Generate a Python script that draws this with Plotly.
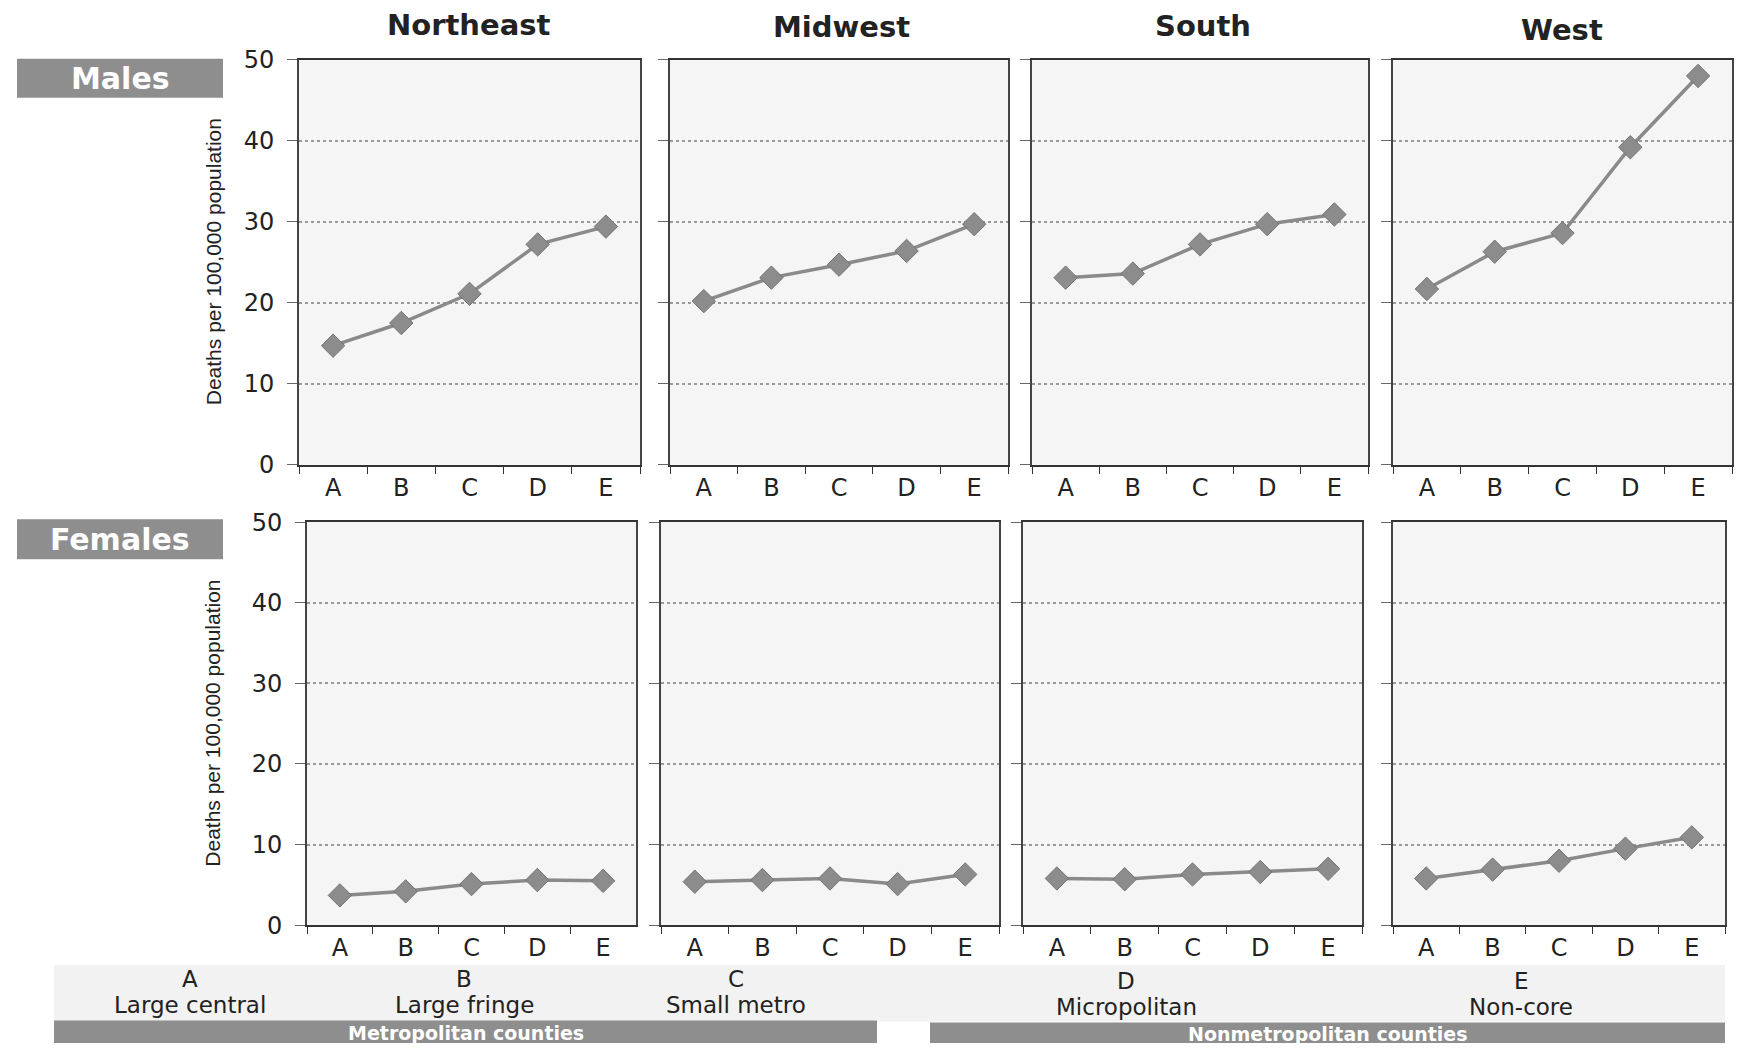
import plotly.graph_objects as go

W, H = 1747, 1057

categories = ["A", "B", "C", "D", "E"]
regions = ["Northeast", "Midwest", "South", "West"]

northeast_males = [14.7, 17.5, 21.1, 27.2, 29.4]
midwest_males = [20.2, 23.1, 24.7, 26.4, 29.7]
south_males = [23.1, 23.6, 27.2, 29.7, 30.9]
west_males = [21.7, 26.3, 28.6, 39.2, 48.0]

northeast_females = [3.7, 4.2, 5.1, 5.6, 5.5]
midwest_females = [5.4, 5.6, 5.8, 5.1, 6.3]
south_females = [5.8, 5.7, 6.3, 6.6, 7.0]
west_females = [5.8, 6.9, 8.0, 9.5, 10.9]

y_ticks = [0, 10, 20, 30, 40, 50]
category_letters = ["A", "B", "C", "D", "E"]
category_names = ["Large central", "Large fringe", "Small metro", "Micropolitan", "Non-core"]
group_names = ["Metropolitan counties", "Nonmetropolitan counties"]
row_names = ["Males", "Females"]
y_title = "Deaths per 100,000 population"

males = [northeast_males, midwest_males, south_males, west_males]
females = [northeast_females, midwest_females, south_females, west_females]

WIDE = "DejaVu Sans, Verdana, sans-serif"
ARIAL = "Liberation Sans, Arial, sans-serif"


def px(x):
    return x / W


def py(y):
    return 1 - y / H


male_x = [(299, 640), (670, 1008), (1032, 1368), (1393, 1732)]
female_x = [(307, 636), (661, 999), (1023, 1362), (1393, 1725)]
male_y = (47, 463)
female_y = (522, 936)

fig = go.Figure()
layout = dict(
    width=W, height=H,
    margin=dict(l=0, r=0, t=0, b=0),
    paper_bgcolor="white",
    plot_bgcolor="#f5f5f5",
    showlegend=False,
    font=dict(family=ARIAL, color="#222"),
)

idx = 0
for row, (data, xs, ys) in enumerate([(males, male_x, male_y), (females, female_x, female_y)]):
    for col in range(4):
        idx += 1
        xa = "x" if idx == 1 else f"x{idx}"
        ya = "y" if idx == 1 else f"y{idx}"
        fig.add_trace(go.Scatter(
            x=categories, y=data[col], xaxis=xa, yaxis=ya, mode="lines+markers",
            line=dict(color="#8a8a8a", width=3.5),
            marker=dict(symbol="diamond", size=18, color="#8c8c8c",
                        line=dict(color="#747474", width=1)),
        ))
        xkey = "xaxis" if idx == 1 else f"xaxis{idx}"
        ykey = "yaxis" if idx == 1 else f"yaxis{idx}"
        layout[xkey] = dict(
            domain=[px(xs[col][0]), px(xs[col][1])], anchor=ya,
            type="category", range=[-0.5, 4.5],
            showline=True, linecolor="#333", linewidth=2, mirror=True,
            ticks="outside", tickson="boundaries", ticklen=7, tickcolor="#333",
            showgrid=False, tickfont=dict(size=24, color="#222", family=WIDE),
            fixedrange=True,
        )
        layout[ykey] = dict(
            domain=[py(ys[1]), py(ys[0])], anchor=xa,
            range=[0, 50], tickvals=y_ticks,
            showticklabels=(col == 0),
            showline=True, linecolor="#444", linewidth=2, mirror=True,
            ticks="outside", ticklen=10, tickcolor="#666",
            ticklabelstandoff=8,
            showgrid=True, gridcolor="#9a9a9a", gridwidth=1.5, griddash="dot",
            zeroline=False, tickfont=dict(size=24, color="#222", family=WIDE),
            fixedrange=True,
        )

annotations = []
shapes = []

# region titles
title_x = [469, 841, 1203, 1562]
title_y = [11, 13, 12, 16]
for name, tx, ty in zip(regions, title_x, title_y):
    annotations.append(dict(
        x=px(tx), y=py(ty), xref="paper", yref="paper", text=f"<b>{name}</b>",
        showarrow=False, font=dict(size=29, color="#222", family=WIDE),
        xanchor="center", yanchor="middle"))

# row label boxes
for (y0, y1), name in zip([(46, 86), (519, 560)], row_names):
    shapes.append(dict(type="rect", xref="paper", yref="paper",
                       x0=px(17), x1=px(223), y0=py(y1), y1=py(y0),
                       fillcolor="#8e8e8e", line=dict(width=0), layer="below"))
    annotations.append(dict(
        x=px(120), y=py((y0 + y1) / 2), xref="paper", yref="paper",
        text=f"<b>{name}</b>", showarrow=False,
        font=dict(size=30, color="white", family=WIDE), xanchor="center", yanchor="middle"))

# y axis titles
for ys in (male_y, female_y):
    annotations.append(dict(
        x=px(213), y=py((ys[0] + ys[1]) / 2), xref="paper", yref="paper",
        text=y_title, textangle=-90, showarrow=False,
        font=dict(size=21, color="#222", family="Liberation Sans Narrow, Arial Narrow, sans-serif"),
        xanchor="center", yanchor="middle"))

# bottom legend band
shapes.append(dict(type="rect", xref="paper", yref="paper",
                   x0=px(54), x1=px(1725), y0=py(1035), y1=py(977),
                   fillcolor="#f2f2f2", line=dict(width=0), layer="below"))

label_x = [190, 464, 736, 1126, 1521]
letter_y = [991, 991, 991, 993, 993]
name_y = [1018, 1018, 1018, 1020, 1020]
for lx, ly, ny, letter, name in zip(label_x, letter_y, name_y, category_letters, category_names):
    annotations.append(dict(x=px(lx), y=py(ly), xref="paper", yref="paper",
                            text=letter, showarrow=False,
                            font=dict(size=23, color="#222", family=WIDE),
                            xanchor="center", yanchor="middle"))
    annotations.append(dict(x=px(lx), y=py(ny), xref="paper", yref="paper",
                            text=name, showarrow=False,
                            font=dict(size=23, color="#222", family=WIDE),
                            xanchor="center", yanchor="middle"))

for (x0, x1, y0), gname in zip([(54, 877, 1034), (930, 1725, 1036)], group_names):
    shapes.append(dict(type="rect", xref="paper", yref="paper",
                       x0=px(x0), x1=px(x1), y0=0, y1=py(y0),
                       fillcolor="#8e8e8e", line=dict(width=0), layer="below"))
    annotations.append(dict(x=px((x0 + x1) / 2), y=py((y0 + H) / 2 + 1), xref="paper", yref="paper",
                            text=f"<b>{gname}</b>", showarrow=False,
                            font=dict(size=19, color="white", family=WIDE),
                            xanchor="center", yanchor="middle"))

layout["annotations"] = annotations
layout["shapes"] = shapes
fig.update_layout(**layout)
fig.write_html(
    "out.html",
    config={"displayModeBar": False},
    post_script="document.body.style.margin='0px';document.body.style.overflow='hidden';",
)
